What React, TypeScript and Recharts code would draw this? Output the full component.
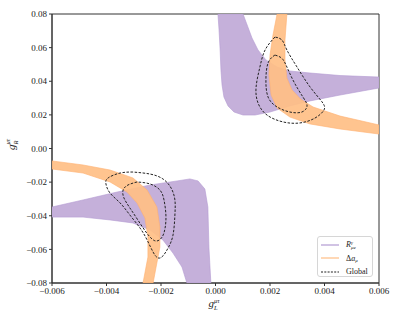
import { ReferenceArea, Scatter, ScatterChart, XAxis, YAxis } from "recharts";

type Pt = [number, number];

// tick values
const xTicks = [-0.006, -0.004, -0.002, 0, 0.002, 0.004, 0.006];
const yTicks = [-0.08, -0.06, -0.04, -0.02, 0, 0.02, 0.04, 0.06, 0.08];

// R^gamma_{mu e} allowed band (purple), upper-right branch
const rgammaUpper: Pt[] = [
  [0.00009, 0.08], [0.00013, 0.0705], [0.00017, 0.0586], [0.0002, 0.0467],
  [0.00024, 0.0378], [0.00031, 0.0306], [0.00046, 0.0253], [0.00068, 0.0217],
  [0.00101, 0.0199], [0.00145, 0.0199], [0.002, 0.0217], [0.00273, 0.0253],
  [0.00347, 0.0283], [0.00457, 0.0318], [0.006, 0.036], [0.006, 0.0425],
  [0.00457, 0.0434], [0.00347, 0.0449], [0.00273, 0.0461], [0.00226, 0.0485],
  [0.00185, 0.0527], [0.00156, 0.0586], [0.00134, 0.0657], [0.00116, 0.0735],
  [0.00101, 0.08],
];

// R^gamma_{mu e} allowed band (purple), lower-left branch
const rgammaLower: Pt[] = [
  [-0.006, -0.0348], [-0.00486, -0.0306], [-0.00361, -0.0259], [-0.0024, -0.0217],
  [-0.00141, -0.0193], [-0.00094, -0.0181], [-0.00064, -0.0193], [-0.00039, -0.0241],
  [-0.00028, -0.0348], [-0.00024, -0.0592], [-0.00017, -0.08], [-0.00105, -0.08],
  [-0.00123, -0.0705], [-0.00156, -0.0622], [-0.00193, -0.0544], [-0.0024, -0.0485],
  [-0.00303, -0.0443], [-0.00387, -0.0425], [-0.00486, -0.0408], [-0.006, -0.0408],
];

// Delta a_mu band (orange), upper-right branch
const amuUpper: Pt[] = [
  [0.00226, 0.08], [0.00211, 0.0675], [0.002, 0.0556], [0.00196, 0.0437],
  [0.00204, 0.0318], [0.00226, 0.0241], [0.00273, 0.0187], [0.00347, 0.0146],
  [0.00457, 0.0116], [0.006, 0.0086], [0.006, 0.014], [0.00457, 0.0193],
  [0.00358, 0.0247], [0.00312, 0.0294], [0.00281, 0.0348], [0.00262, 0.0419],
  [0.00255, 0.0527], [0.00255, 0.0645], [0.00262, 0.08],
];

// Delta a_mu band (orange), lower-left branch
const amuLower: Pt[] = [
  [-0.006, -0.0074], [-0.00486, -0.0098], [-0.00387, -0.0128], [-0.00303, -0.0175],
  [-0.00251, -0.0247], [-0.00215, -0.0348], [-0.00204, -0.0467], [-0.00204, -0.0586],
  [-0.00218, -0.0705], [-0.00229, -0.08], [-0.00266, -0.08], [-0.00248, -0.0646],
  [-0.00248, -0.0527], [-0.00259, -0.0414], [-0.00288, -0.0324], [-0.00325, -0.0259],
  [-0.00387, -0.0199], [-0.00486, -0.0146], [-0.006, -0.0122],
];

// global fit contours (dashed)
const globalOuterUpper: Pt[] = [
  [0.00218, 0.0663], [0.00182, 0.0586], [0.00163, 0.0485], [0.00149, 0.0366],
  [0.00156, 0.0271], [0.00189, 0.0199], [0.00248, 0.0158], [0.0031, 0.0152],
  [0.00365, 0.0181], [0.00398, 0.0229], [0.00391, 0.0277], [0.00347, 0.0366],
  [0.00299, 0.0485], [0.00262, 0.0586], [0.00244, 0.0645],
];
const globalInnerUpper: Pt[] = [
  [0.00218, 0.0556], [0.00193, 0.0509], [0.00185, 0.0408], [0.00193, 0.0306],
  [0.00226, 0.0247], [0.00273, 0.0217], [0.00317, 0.0217], [0.00336, 0.0253],
  [0.00321, 0.0306], [0.00284, 0.0408], [0.00255, 0.0509], [0.00237, 0.0544],
];
const globalOuterLower: Pt[] = [
  [-0.00303, -0.014], [-0.0035, -0.0146], [-0.00394, -0.0175], [-0.00402, -0.0211],
  [-0.00387, -0.0265], [-0.0035, -0.0324], [-0.00314, -0.0396], [-0.00277, -0.0473],
  [-0.00251, -0.0544], [-0.00229, -0.0616], [-0.00211, -0.0651], [-0.00193, -0.0639],
  [-0.00174, -0.0592], [-0.00156, -0.0515], [-0.00149, -0.0396], [-0.00149, -0.0306],
  [-0.00163, -0.0235], [-0.00193, -0.0181], [-0.0024, -0.0152],
];
const globalInnerLower: Pt[] = [
  [-0.00288, -0.0199], [-0.00321, -0.0217], [-0.00339, -0.0247], [-0.00336, -0.0294],
  [-0.00314, -0.0354], [-0.00285, -0.0425], [-0.00255, -0.0497], [-0.00233, -0.0538],
  [-0.00215, -0.055], [-0.00196, -0.0527], [-0.00185, -0.0473], [-0.00182, -0.0396],
  [-0.00189, -0.0306], [-0.00204, -0.0247], [-0.0024, -0.0211],
];

const PURPLE = "#c5b0da";
const PURPLE_EDGE = "#b39bd2";
const ORANGE = "#ffbf86";
const AXIS = "#333";
const FONT = "'Liberation Serif', serif";

const closed = (pts: Pt[]) => [...pts, pts[0]].map(([x, y]) => ({ x, y }));
const noDot = () => <g />;

const fmt = (digits: number) => (v: number) => {
  const s = Math.abs(v).toFixed(digits);
  return v < 0 ? `\u2212${s}` : s;
};

function XLabel(props: any) {
  const vb = props.viewBox;
  const cx = vb.x + vb.width / 2;
  const y = vb.y + 24;
  return (
    <g fontFamily={FONT} fill="#222">
      <text x={cx - 7} y={y} fontSize={11} fontStyle="italic">g</text>
      <text x={cx - 1.5} y={y - 4.5} fontSize={6.5} fontStyle="italic">μτ</text>
      <text x={cx - 1.5} y={y + 2.5} fontSize={6.5} fontStyle="italic">L</text>
    </g>
  );
}

function YLabel(props: any) {
  const vb = props.viewBox;
  const cy = vb.y + vb.height / 2;
  return (
    <g fontFamily={FONT} fill="#222" transform={`translate(15, ${cy}) rotate(-90)`}>
      <text x={-1.5} y={0} fontSize={11} fontStyle="italic">g</text>
      <text x={4} y={-5} fontSize={6.5} fontStyle="italic">μτ</text>
      <text x={4} y={2.5} fontSize={6.5} fontStyle="italic">R</text>
    </g>
  );
}

function LegendBox() {
  const row = { display: "flex", alignItems: "center", height: 13.5 } as const;
  const sample = (stroke: string, dash?: string) => (
    <svg width={18} height={4} style={{ marginRight: 7 }}>
      <line x1={0} y1={2} x2={18} y2={2} stroke={stroke} strokeWidth={1.2} strokeDasharray={dash} />
    </svg>
  );
  return (
    <div
      style={{
        position: "absolute",
        left: 317,
        top: 236,
        width: 56,
        height: 41,
        border: "1px solid #d6d6d6",
        borderRadius: 3,
        background: "rgba(255,255,255,0.85)",
        fontFamily: FONT,
        fontSize: 8,
        color: "#222",
        padding: "1px 0 0 3px",
        boxSizing: "border-box",
      }}
    >
      <div style={row}>
        {sample(PURPLE_EDGE)}
        <i>R</i>
        <span style={{ display: "inline-flex", flexDirection: "column", fontSize: 5, lineHeight: "5px", fontStyle: "italic" }}>
          <span>γ</span>
          <span>μe</span>
        </span>
      </div>
      <div style={row}>
        {sample(ORANGE)}
        <span>Δ</span>
        <i>a</i>
        <i style={{ fontSize: 5, marginTop: 4 }}>μ</i>
      </div>
      <div style={row}>
        {sample("#222", "2 1.3")}
        <span>Global</span>
      </div>
    </div>
  );
}

export default function App() {
  const tick = { fontFamily: FONT, fontSize: 9, fill: "#222" };
  const band = (pts: Pt[], line: Record<string, unknown>) => (
    <Scatter
      data={closed(pts)}
      shape={noDot}
      line={line}
      lineType="joint"
      lineJointType="linear"
      legendType="none"
      isAnimationActive={false}
    />
  );
  const purpleLine = { fill: PURPLE, stroke: PURPLE_EDGE, strokeWidth: 0.6, strokeLinejoin: "round" };
  const orangeLine = { fill: ORANGE, fillOpacity: 0.92, stroke: "#ffb070", strokeWidth: 0.6, strokeLinejoin: "round" };
  return (
    <div style={{ position: "absolute", left: 0, top: 0, width: 399, height: 319, background: "#fff" }}>
      <ScatterChart width={399} height={319} margin={{ top: 14, right: 20, bottom: 6, left: 0 }}>
        <XAxis
          type="number"
          dataKey="x"
          domain={[-0.006, 0.006]}
          ticks={xTicks}
          allowDataOverflow
          tickFormatter={fmt(3)}
          tick={tick}
          tickSize={3}
          tickMargin={2}
          stroke={AXIS}
          height={30}
          label={{ content: XLabel }}
        />
        <YAxis
          type="number"
          dataKey="y"
          domain={[-0.08, 0.08]}
          ticks={yTicks}
          allowDataOverflow
          tickFormatter={fmt(2)}
          tick={tick}
          tickSize={3}
          tickMargin={2}
          stroke={AXIS}
          width={52}
          label={{ content: YLabel }}
        />
        {band(rgammaUpper, purpleLine)}
        {band(rgammaLower, purpleLine)}
        {band(amuUpper, orangeLine)}
        {band(amuLower, orangeLine)}
        {[globalOuterUpper, globalInnerUpper, globalOuterLower, globalInnerLower].map((loop, i) => (
          <Scatter
            key={i}
            data={closed(loop)}
            shape={noDot}
            line={{ fill: "none", stroke: "#222", strokeWidth: 1, strokeDasharray: "2.5 1.5" }}
            lineType="joint"
            lineJointType="natural"
            legendType="none"
            isAnimationActive={false}
          />
        ))}
        <ReferenceArea x1={-0.006} x2={0.006} y1={-0.08} y2={0.08} fill="none" stroke={AXIS} strokeWidth={1} />
      </ScatterChart>
      <LegendBox />
    </div>
  );
}
